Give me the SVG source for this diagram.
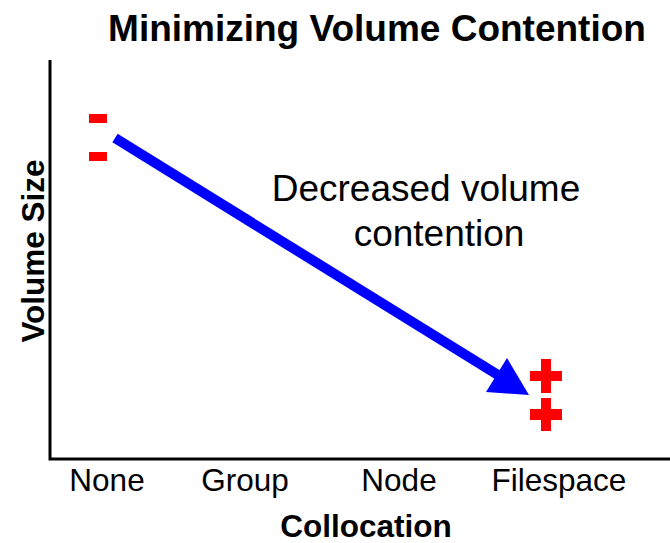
<svg xmlns="http://www.w3.org/2000/svg" width="670" height="543" viewBox="0 0 670 543">
  <style>
    text { font-family: "Liberation Sans", Arial, sans-serif; fill: #000; }
    .title { font-size: 37px; font-weight: bold; }
    .axis-title { font-size: 31.5px; font-weight: bold; }
    .tick { font-size: 31.5px; }
    .note { font-size: 37px; }
    .axis { stroke: #000; stroke-width: 3; fill: none; }
    .mark { fill: #FF0000; }
    .flow { stroke: #0000FF; stroke-width: 10; fill: none; }
    .head { fill: #0000FF; }
  </style>

  <rect width="670" height="543" fill="#fff"/>

  <!-- Title -->
  <text class="title" x="377" y="41" text-anchor="middle">Minimizing Volume Contention</text>

  <!-- Axes -->
  <g id="axes">
    <path class="axis" d="M50,60 V459 H670"/>
  </g>

  <!-- Axis titles -->
  <text class="axis-title" x="366" y="537" text-anchor="middle">Collocation</text>
  <text class="axis-title" transform="translate(44,251) rotate(-90)" text-anchor="middle">Volume Size</text>

  <!-- Category labels -->
  <g id="categories">
    <text class="tick" x="107" y="491" text-anchor="middle">None</text>
    <text class="tick" x="245" y="491" text-anchor="middle">Group</text>
    <text class="tick" x="399" y="491" text-anchor="middle">Node</text>
    <text class="tick" x="559" y="491" text-anchor="middle">Filespace</text>
  </g>

  <!-- Minus markers -->
  <g id="minus">
    <rect class="mark" x="89" y="114" width="18" height="9"/>
    <rect class="mark" x="89" y="152" width="18" height="9"/>
  </g>

  <!-- Plus markers -->
  <g id="plus">
    <path class="mark" d="M541,359 h10 v12 h11 v10 h-11 v12 h-10 v-12 h-11 v-10 h11 z"/>
    <path class="mark" d="M541,398 h10 v11 h11 v11 h-11 v11 h-10 v-11 h-11 v-11 h11 z"/>
  </g>

  <!-- Trend arrow -->
  <g id="connectors">
    <line class="flow" x1="115" y1="138" x2="498" y2="375"/>
    <polygon class="head" points="529,395 486,392 507,358"/>
  </g>

  <!-- Annotation -->
  <g id="annotation">
    <text class="note" x="426" y="201" text-anchor="middle">Decreased volume</text>
    <text class="note" x="439" y="246" text-anchor="middle">contention</text>
  </g>
</svg>
